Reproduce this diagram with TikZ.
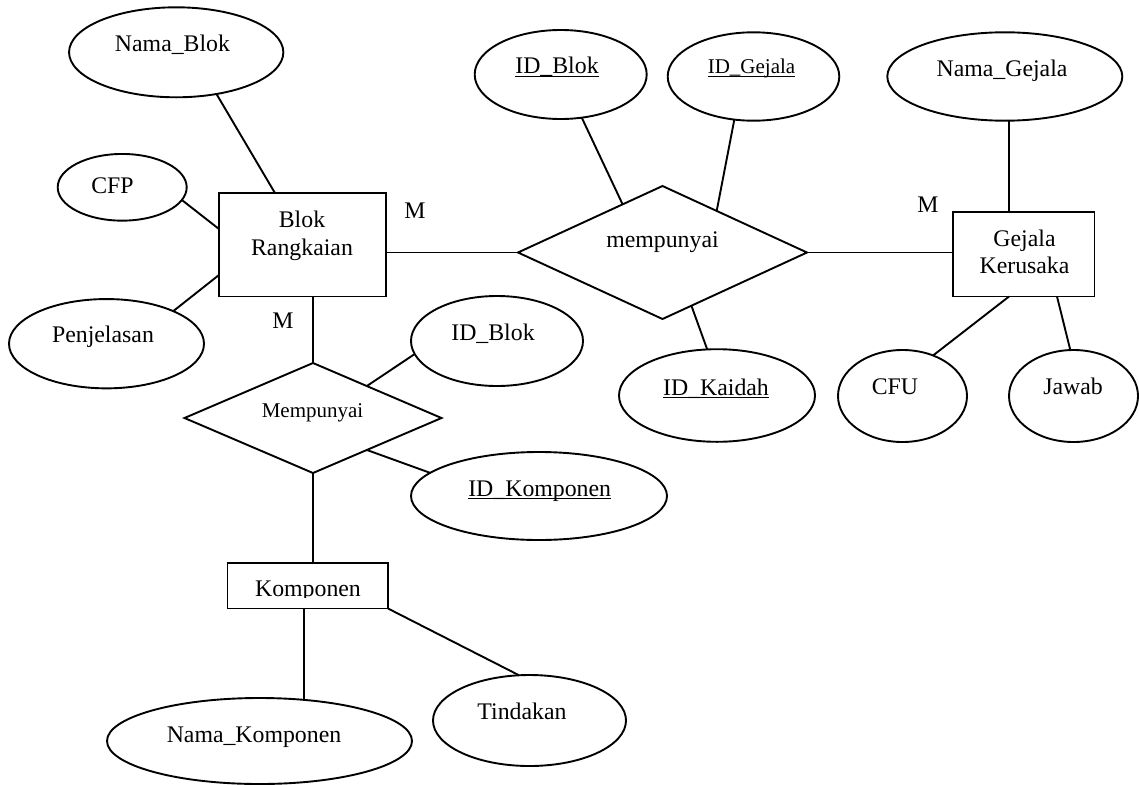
\documentclass[tikz,border=0pt]{standalone}
\usepackage{fontspec}
\setmainfont{Liberation Serif}
\usetikzlibrary{shapes.geometric,calc}

% key attribute: text with a solid underline
\newcommand\keyattr[1]{\setbox0\hbox{#1}\rlap{\rule[-3.2pt]{\wd0}{1.6pt}}\box0}

\begin{document}
\begin{tikzpicture}[x=1pt,y=-1pt,
  shapeline/.style={draw=black, line width=1.9pt, inner sep=0pt, outer sep=0pt},
  entity/.style={shapeline, rectangle},
  attr/.style={shapeline, ellipse},
  rel/.style={shapeline, diamond},
  lbl/.style={anchor=base, inner sep=0pt, outer sep=0pt, font=\fontsize{23.8}{27.5}\selectfont},
  smalllbl/.style={font=\fontsize{21}{25}\selectfont},
  link/.style={line width=1.9pt}]
\useasboundingbox (0,0) rectangle (1139,784);

% entities
\node[entity, minimum width=167pt, minimum height=103.5pt] (blok) at (302.5,244.75) {};
\node[entity, minimum width=141.5pt, minimum height=84.5pt] (gejala) at (1023.75,254.25) {};
\node[entity, minimum width=160.5pt, minimum height=45.5pt] (komp) at (307.75,585.75) {};

% relationships
\node[rel, minimum width=289pt, minimum height=133pt] (rel1) at (662.5,252.5) {};
\node[rel, minimum width=257pt, minimum height=110pt] (rel2) at (313,418) {};

% attributes
\node[attr, minimum width=214.3pt, minimum height=90pt] (namablok) at (176.2,52.3) {};
\node[attr, minimum width=129pt, minimum height=66.7pt] (cfp) at (122.2,187.3) {};
\node[attr, minimum width=195pt, minimum height=89.3pt] (penjelasan) at (106.5,343.7) {};
\node[attr, minimum width=172pt, minimum height=89pt] (idblok1) at (560.7,74.5) {};
\node[attr, minimum width=171.6pt, minimum height=88.4pt] (idgejala) at (753.5,76.5) {};
\node[attr, minimum width=235pt, minimum height=88.4pt] (namagejala) at (1004.8,76.5) {};
\node[attr, minimum width=196pt, minimum height=92.6pt] (idkaidah) at (717,395.5) {};
\node[attr, minimum width=129pt, minimum height=92pt] (cfu) at (902.5,396) {};
\node[attr, minimum width=129pt, minimum height=92pt] (jawab) at (1073.5,396) {};
\node[attr, minimum width=172pt, minimum height=90pt] (idblok2) at (497,341) {};
\node[attr, minimum width=256pt, minimum height=88pt] (idkomp) at (539,496) {};
\node[attr, minimum width=305pt, minimum height=86pt] (namakomp) at (259.5,741) {};
\node[attr, minimum width=193pt, minimum height=91pt] (tindakan) at (529.5,720.5) {};

% texts
\node[lbl] (t-namablok) at (172.5,52) {Nama\_Blok};
\node[lbl] (t-cfp) at (112.5,193.3) {CFP};
\node[lbl] (t-blok1) at (302,227.3) {Blok};
\node[lbl] (t-blok2) at (302,255) {Rangkaian};
\node[lbl] (t-penjelasan) at (103,342.7) {Penjelasan};
\node[lbl] (t-idblok1) at (557,74) {\keyattr{ID\_Blok}};
\node[lbl, smalllbl] (t-idgejala) at (751.5,74) {\keyattr{ID\_Gejala}};
\node[lbl] (t-rel1) at (662.5,247.3) {mempunyai};
\node[lbl] (t-namagejala) at (1002,77) {Nama\_Gejala};
\node[lbl] (t-gejala1) at (1024.5,246) {Gejala};
\node[lbl] (t-gejala2) at (1024.5,273) {Kerusaka};
\node[lbl] (t-idkaidah) at (716,395) {\keyattr{ID\_Kaidah}};
\node[lbl] (t-cfu) at (895,394.5) {CFU};
\node[lbl] (t-jawab) at (1073,394.5) {Jawab};
\node[lbl] (t-idblok2) at (493,340) {ID\_Blok};
\node[lbl, smalllbl] (t-rel2) at (312.5,417) {Mempunyai};
\node[lbl] (t-idkomp) at (539.7,496) {\keyattr{ID\_Komponen}};
\begin{scope}
  \clip (227,563) rectangle (388,597);
  \node[lbl] (t-komp) at (308,596) {Komponen};
\end{scope}
\node[lbl] (t-namakomp) at (254,742) {Nama\_Komponen};
\node[lbl] (t-tindakan) at (522,719) {Tindakan};

% cardinalities
\node[lbl] (m-blok) at (415,218) {M};
\node[lbl] (m-rel2) at (283,328) {M};
\node[lbl] (m-gejala) at (928,212.7) {M};

% connectors
\draw[link] (namablok.-46.2) -- ($(blok.north west)!0.335!(blok.north east)$);
\draw[link] (cfp.-12.9) -- ($(blok.north west)!0.348!(blok.south west)$);
\draw[link] (penjelasan.26.8) -- ($(blok.north west)!0.792!(blok.south west)$);
\draw[link] (rel1.west) -- (rel1.west -| blok.east);
\draw[link] (idblok1.-64.3) -- ($(rel1.west)!0.724!(rel1.north)$);
\draw[link] (idgejala.-114.6) -- ($(rel1.north)!0.375!(rel1.east)$);
\draw[link] (idkaidah.102.4) -- ($(rel1.south)!0.2!(rel1.east)$);
\draw[link] (rel1.east) -- (rel1.east -| gejala.west);
\draw[link] ($(gejala.north west)!0.396!(gejala.north east)$) coordinate (gtop) -- (gtop |- namagejala.south);
\draw[link] (cfu.53.6) -- ($(gejala.south west)!0.396!(gejala.south east)$);
\draw[link] (jawab.94.4) -- ($(gejala.south west)!0.735!(gejala.south east)$);
\draw[link] (rel2.north) -- (rel2.north |- blok.south);
\draw[link] (idblok2.189.6) -- ($(rel2.north)!0.419!(rel2.east)$);
\draw[link] (idkomp.168.1) -- ($(rel2.south)!0.419!(rel2.east)$);
\draw[link] (rel2.south) -- (rel2.south |- komp.north);
\draw[link] (namakomp.43) -- (namakomp.43 |- komp.south);
\draw[link] (tindakan.103.9) -- (komp.south east);
\end{tikzpicture}
\end{document}
